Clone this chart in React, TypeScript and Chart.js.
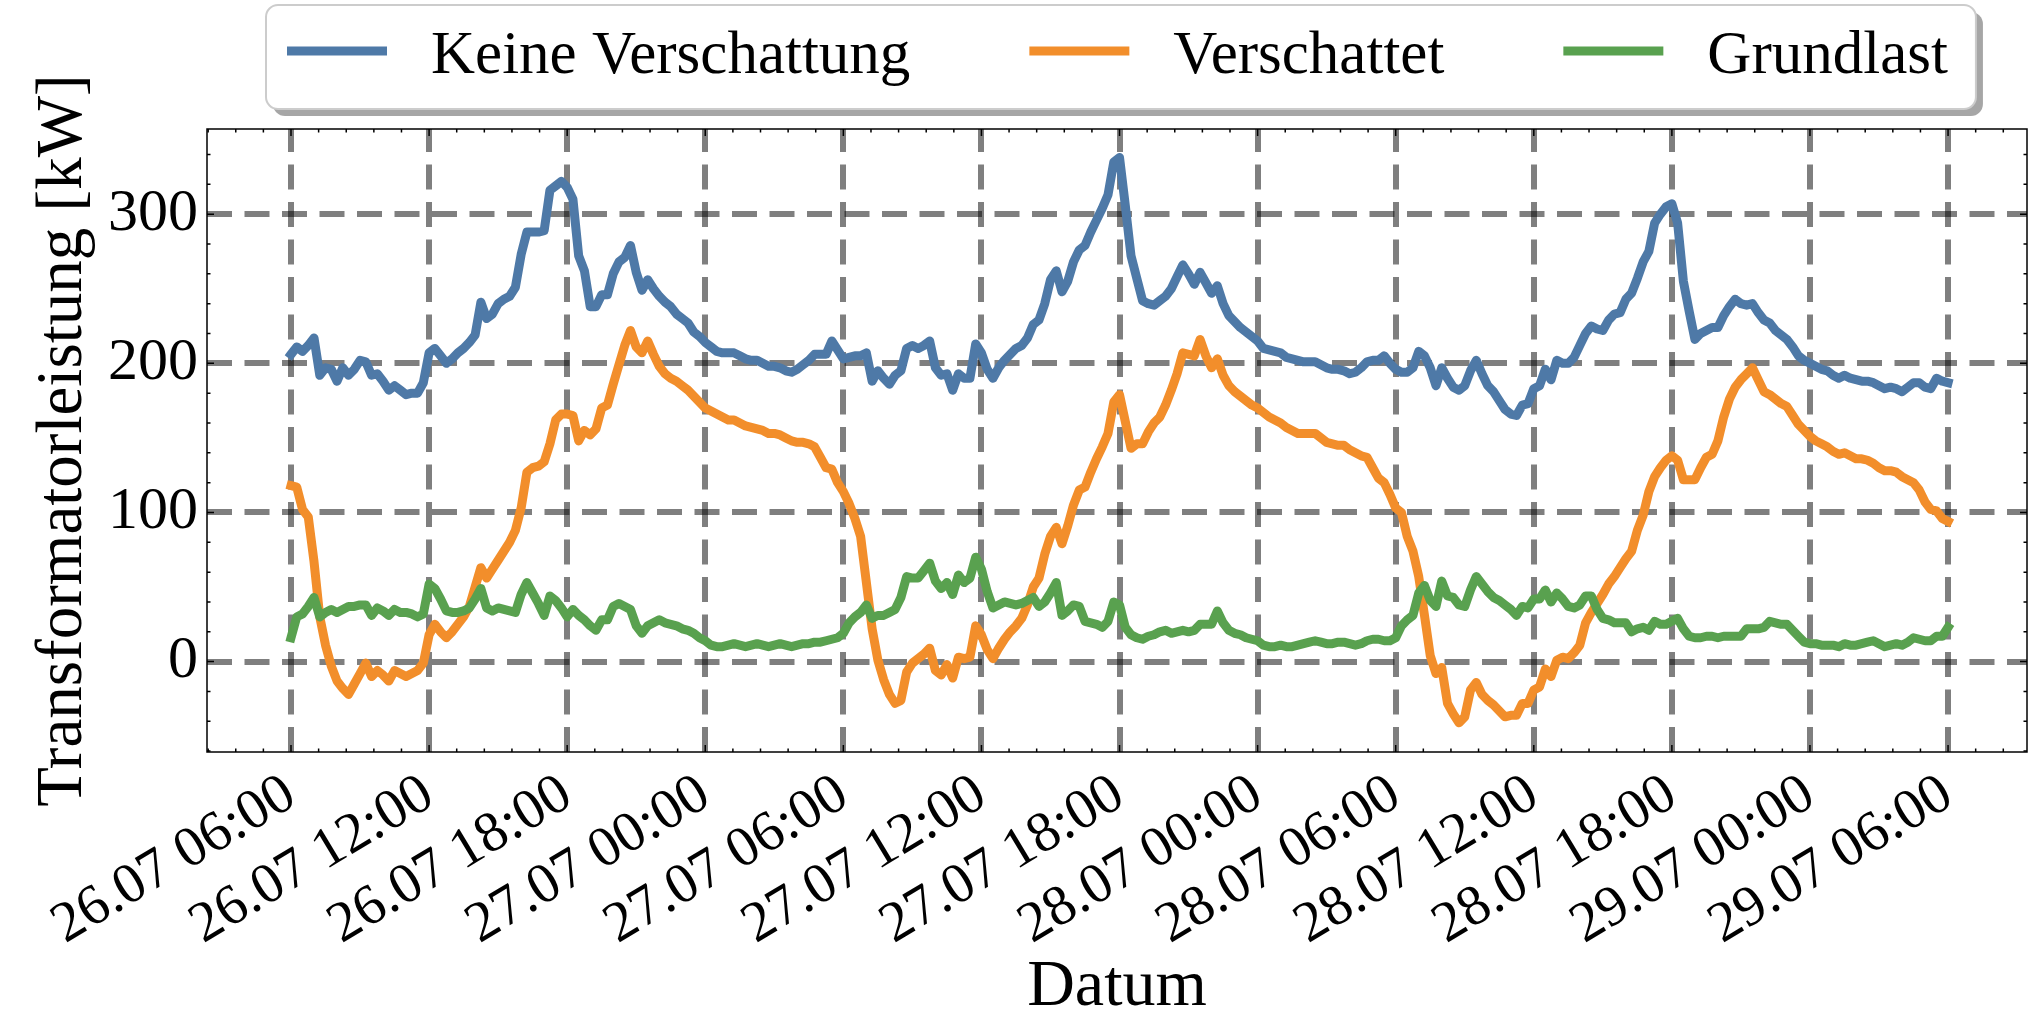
import React, { useEffect, useRef } from "react";
import { Chart, registerables } from "chart.js";

Chart.register(...registerables);

// Time axis: hours counted from 26.07 00:00, one sample every 15 minutes
const startHour = 6; // 26.07 06:00
const stepHours = 0.25;

const seriesLabels = ["Keine Verschattung", "Verschattet", "Grundlast"];
const seriesColors = ["#4e79a7", "#f28e2b", "#59a14f"];

const keineVerschattung = [
  206, 211, 208, 212, 217, 192, 197, 196, 188, 197, 192, 196, 202, 201, 192, 193, 188, 182, 185, 182, 179, 180, 180, 187,
  207, 210, 205, 200, 203, 207, 210, 214, 219, 241, 230, 233, 240, 243, 245, 251, 273, 288, 288, 288, 289, 316, 319, 322,
  318, 310, 272, 262, 238, 238, 246, 246, 260, 268, 271, 279, 261, 249, 256, 250, 245, 241, 238, 233, 230, 227, 221, 218,
  214, 211, 208, 207, 207, 207, 205, 203, 202, 202, 200, 198, 198, 197, 195, 194, 196, 199, 202, 206, 206, 206, 215, 209,
  203, 204, 205, 205, 207, 188, 195, 190, 186, 192, 195, 210, 212, 210, 212, 215, 197, 192, 193, 182, 193, 190, 190, 213,
  207, 196, 190, 197, 202, 206, 210, 212, 217, 226, 229, 240, 256, 262, 248, 255, 268, 276, 279, 288, 296, 304, 313, 335,
  338, 306, 272, 257, 242, 240, 239, 242, 245, 250, 258, 266, 260, 253, 261, 254, 247, 252, 240, 232, 228, 224, 221, 218,
  215, 210, 209, 208, 207, 204, 203, 202, 201, 201, 201, 199, 197, 196, 196, 195, 193, 194, 197, 201, 202, 202, 205, 200,
  196, 194, 194, 197, 208, 205, 197, 185, 197, 190, 184, 182, 185, 195, 202, 193, 185, 181, 175, 169, 166, 165, 172, 173,
  183, 185, 196, 189, 202, 200, 200, 204, 212, 220, 225, 223, 222, 229, 233, 234, 243, 247, 257, 268, 275, 294, 300, 305,
  307, 294, 255, 235, 216, 220, 222, 224, 224, 232, 238, 243, 240, 239, 240, 234, 229, 227, 222, 219, 216, 211, 205, 202,
  200, 198, 196, 195, 192, 190, 192, 190, 189, 188, 188, 187, 185, 183, 184, 183, 181, 184, 187, 187, 184, 183, 190, 188,
  187,
];

const verschattet = [
  118, 117, 102, 97, 67, 30, 11, -3, -13, -18, -22, -15, -8, -1, -10, -6, -9, -13, -6, -8, -10, -8, -6, -1,
  18, 25, 20, 16, 20, 25, 30, 37, 50, 63, 56, 62, 68, 74, 80, 88, 103, 127, 130, 131, 134, 146, 162, 166,
  166, 165, 148, 155, 152, 156, 170, 172, 186, 199, 212, 222, 211, 207, 215, 206, 198, 193, 190, 188, 185, 182, 178, 174,
  170, 168, 166, 164, 162, 162, 160, 158, 157, 156, 155, 153, 153, 152, 150, 148, 147, 147, 146, 144, 137, 130, 129, 120,
  114, 106, 96, 84, 53, 22, 1, -12, -22, -28, -26, -7, -1, 2, 5, 9, -6, -9, -2, -11, 3, 2, 3, 24,
  18, 8, 2, 9, 15, 20, 24, 29, 38, 50, 56, 72, 84, 90, 79, 91, 105, 115, 117, 127, 136, 144, 153, 174,
  179, 161, 143, 146, 146, 154, 160, 164, 172, 182, 193, 207, 206, 205, 216, 205, 197, 203, 192, 185, 181, 178, 175, 172,
  170, 167, 164, 162, 160, 157, 155, 153, 153, 153, 153, 150, 147, 146, 145, 145, 142, 140, 138, 137, 130, 123, 120, 112,
  103, 100, 84, 74, 57, 31, 4, -8, -4, -28, -35, -41, -37, -19, -14, -22, -26, -29, -33, -37, -36, -36, -28, -28,
  -19, -17, -5, -10, 1, 3, 2, 6, 11, 26, 33, 39, 45, 52, 57, 63, 69, 74, 88, 98, 114, 124, 130, 135,
  138, 135, 122, 122, 122, 130, 137, 139, 148, 164, 176, 184, 189, 193, 197, 189, 181, 179, 176, 173, 171, 165, 159, 155,
  151, 148, 146, 144, 141, 139, 140, 138, 136, 136, 135, 133, 130, 128, 128, 127, 124, 122, 120, 115, 107, 102, 101, 96,
  94,
];

const grundlast = [
  16, 30, 32, 37, 43, 30, 33, 35, 33, 35, 37, 37, 38, 38, 31, 36, 34, 31, 35, 33, 33, 32, 30, 32,
  52, 49, 42, 34, 33, 33, 34, 36, 42, 49, 36, 34, 36, 35, 34, 33, 45, 53, 46, 39, 31, 44, 41, 36,
  30, 35, 31, 28, 24, 21, 28, 28, 37, 39, 37, 35, 24, 19, 24, 26, 28, 26, 25, 24, 22, 21, 19, 16,
  14, 11, 10, 10, 11, 12, 11, 10, 11, 12, 11, 10, 11, 12, 11, 10, 11, 12, 12, 13, 13, 14, 15, 16,
  19, 26, 30, 33, 38, 29, 31, 31, 33, 35, 43, 57, 56, 56, 61, 66, 54, 49, 53, 45, 58, 53, 56, 70,
  62, 47, 36, 38, 40, 39, 38, 39, 41, 43, 37, 40, 46, 53, 31, 34, 38, 37, 27, 26, 25, 23, 27, 40,
  38, 23, 18, 16, 15, 17, 18, 20, 21, 19, 20, 21, 20, 21, 25, 25, 25, 34, 26, 21, 19, 18, 16, 15,
  14, 11, 10, 10, 11, 10, 10, 11, 12, 13, 14, 13, 12, 12, 13, 13, 12, 11, 12, 14, 15, 15, 14, 14,
  16, 24, 28, 31, 46, 51, 41, 37, 54, 44, 43, 38, 37, 48, 57, 52, 47, 43, 41, 38, 35, 31, 37, 36,
  42, 42, 48, 40, 46, 42, 37, 36, 38, 44, 44, 35, 29, 28, 26, 26, 26, 20, 22, 23, 21, 27, 25, 25,
  27, 29, 22, 17, 16, 16, 17, 17, 16, 17, 17, 17, 17, 22, 22, 22, 23, 27, 26, 25, 25, 21, 17, 13,
  12, 12, 11, 11, 11, 10, 12, 11, 11, 12, 13, 14, 12, 10, 11, 12, 11, 13, 16, 15, 14, 14, 17, 17,
  23,
];

const xTickHours = [6, 12, 18, 24, 30, 36, 42, 48, 54, 60, 66, 72, 78];
const xTickLabels = [
  "26.07 06:00", "26.07 12:00", "26.07 18:00", "27.07 00:00", "27.07 06:00", "27.07 12:00", "27.07 18:00",
  "28.07 00:00", "28.07 06:00", "28.07 12:00", "28.07 18:00", "29.07 00:00", "29.07 06:00",
];
const yTickValues = [0, 100, 200, 300];
const xAxisTitle = "Datum";
const yAxisTitle = "Transformatorleistung [kW]";

const X_MIN = 2.35;
const X_MAX = 81.43;
const Y_MIN = -60.6;
const Y_MAX = 357.1;

const FONT = "'Liberation Serif', 'Times New Roman', Times, serif";

function roundRectPath(ctx: CanvasRenderingContext2D, x: number, y: number, w: number, h: number, r: number) {
  ctx.beginPath();
  ctx.moveTo(x + r, y);
  ctx.lineTo(x + w - r, y);
  ctx.arcTo(x + w, y, x + w, y + r, r);
  ctx.lineTo(x + w, y + h - r);
  ctx.arcTo(x + w, y + h, x + w - r, y + h, r);
  ctx.lineTo(x + r, y + h);
  ctx.arcTo(x, y + h, x, y + h - r, r);
  ctx.lineTo(x, y + r);
  ctx.arcTo(x, y, x + r, y, r);
  ctx.closePath();
}

const framePlugin = {
  id: "frameTicks",
  afterDraw(chart: any) {
    const { ctx, chartArea: a, scales } = chart;
    const xs = scales.x;
    const ys = scales.y;
    ctx.save();
    ctx.strokeStyle = "#000";
    ctx.lineWidth = 1.5;
    ctx.strokeRect(a.left, a.top, a.right - a.left, a.bottom - a.top);
    const majorLen = 7;
    const minorLen = 3.5;
    ctx.beginPath();
    const xMaj = xs.ticks.map((t: any) => t.value);
    const xStep = (xMaj[1] - xMaj[0]) / 5;
    let v = xMaj[0];
    while (v - xStep >= xs.min) v -= xStep;
    for (; v <= xs.max + 1e-9; v += xStep) {
      const isMajor = xMaj.some((m: number) => Math.abs(m - v) < 1e-6);
      const len = isMajor ? majorLen : minorLen;
      const px = xs.getPixelForValue(v);
      ctx.moveTo(px, a.bottom);
      ctx.lineTo(px, a.bottom - len);
      ctx.moveTo(px, a.top);
      ctx.lineTo(px, a.top + len);
    }
    const yMaj = ys.ticks.map((t: any) => t.value);
    const yStep = (yMaj[1] - yMaj[0]) / 5;
    let w = yMaj[0];
    while (w - yStep >= ys.min) w -= yStep;
    for (; w <= ys.max + 1e-9; w += yStep) {
      const isMajor = yMaj.some((m: number) => Math.abs(m - w) < 1e-6);
      const len = isMajor ? majorLen : minorLen;
      const py = ys.getPixelForValue(w);
      ctx.moveTo(a.left, py);
      ctx.lineTo(a.left + len, py);
      ctx.moveTo(a.right, py);
      ctx.lineTo(a.right - len, py);
    }
    ctx.stroke();
    ctx.restore();
  },
};

const legendPlugin = {
  id: "mplLegend",
  afterDraw(chart: any) {
    const ctx: CanvasRenderingContext2D = chart.ctx;
    ctx.save();
    ctx.font = `61px ${FONT}`;
    const items = chart.data.datasets.map((ds: any) => ({
      label: ds.label as string,
      color: ds.borderColor as string,
      w: ctx.measureText(ds.label).width,
    }));
    const padL = 21;
    const padR = 28;
    const handleLen = 100;
    const handleGap = 44;
    const colGap = 119;
    let total = padL + padR;
    items.forEach((it: any, i: number) => {
      total += handleLen + handleGap + it.w + (i > 0 ? colGap : 0);
    });
    const boxX = 266;
    const boxY = 5;
    const boxH = 104;
    const r = 12;
    // shadow
    roundRectPath(ctx, boxX + 7, boxY + 7, total, boxH, r);
    ctx.fillStyle = "rgba(77,77,77,0.5)";
    ctx.fill();
    // frame
    roundRectPath(ctx, boxX, boxY, total, boxH, r);
    ctx.fillStyle = "#ffffff";
    ctx.fill();
    ctx.strokeStyle = "#cccccc";
    ctx.lineWidth = 2;
    ctx.stroke();
    let x = boxX + padL;
    const lineY = 51;
    const textY = 73;
    items.forEach((it: any, i: number) => {
      if (i > 0) x += colGap;
      ctx.strokeStyle = it.color;
      ctx.lineWidth = 9;
      ctx.lineCap = "butt";
      ctx.beginPath();
      ctx.moveTo(x, lineY);
      ctx.lineTo(x + handleLen, lineY);
      ctx.stroke();
      x += handleLen + handleGap;
      ctx.fillStyle = "#000";
      ctx.textBaseline = "alphabetic";
      ctx.textAlign = "left";
      ctx.fillText(it.label, x, textY);
      x += it.w;
    });
    ctx.restore();
  },
};

export default function App() {
  const canvasRef = useRef<HTMLCanvasElement | null>(null);

  useEffect(() => {
    document.body.style.margin = "0";
    const canvas = canvasRef.current;
    if (!canvas) return;
    const series = [keineVerschattung, verschattet, grundlast];
    const chart = new Chart(canvas, {
      type: "line",
      data: {
        datasets: series.map((vals, k) => ({
          label: seriesLabels[k],
          data: vals.map((val, i) => ({ x: startHour + i * stepHours, y: val })),
          borderColor: seriesColors[k],
          backgroundColor: seriesColors[k],
          borderWidth: 9,
          pointRadius: 0,
          pointHoverRadius: 0,
          tension: 0,
          fill: false,
          borderJoinStyle: "round",
          borderCapStyle: "square",
          order: 2 - k,
        })),
      },
      options: {
        responsive: false,
        animation: false,
        devicePixelRatio: 1,
        events: [],
        layout: { padding: { top: 129, right: 1, left: 0, bottom: 0 } },
        plugins: {
          legend: { display: false },
          tooltip: { enabled: false },
          title: { display: false },
        },
        scales: {
          x: {
            type: "linear",
            min: X_MIN,
            max: X_MAX,
            z: 1,
            afterBuildTicks: (s: any) => {
              s.ticks = xTickHours.map((h) => ({ value: h }));
            },
            afterFit: (s: any) => {
              s.height = 265;
            },
            ticks: {
              autoSkip: false,
              maxRotation: 31,
              minRotation: 31,
              padding: 9,
              color: "#000",
              font: { family: FONT, size: 57 },
              callback: (_v: any, index: number) => xTickLabels[index] ?? "",
            },
            grid: { color: "rgba(0,0,0,0.5)", lineWidth: 6, drawTicks: false },
            border: { display: false, dash: [25, 12.5], dashOffset: 2 },
            title: {
              display: true,
              text: xAxisTitle,
              color: "#000",
              font: { family: FONT, size: 66, lineHeight: 0.875 },
              padding: { top: 0, bottom: 0 },
            },
          },
          y: {
            type: "linear",
            min: Y_MIN,
            max: Y_MAX,
            z: 1,
            afterBuildTicks: (s: any) => {
              s.ticks = yTickValues.map((v) => ({ value: v }));
            },
            afterFit: (s: any) => {
              s.width = 207;
            },
            ticks: {
              padding: 9,
              color: "#000",
              font: { family: FONT, size: 60 },
            },
            grid: { color: "rgba(0,0,0,0.5)", lineWidth: 6, drawTicks: false },
            border: { display: false, dash: [25, 12.5], dashOffset: 0 },
            title: {
              display: true,
              text: yAxisTitle,
              color: "#000",
              font: { family: FONT, size: 65, lineHeight: 0.875 },
              padding: { top: 35, bottom: 0 },
            },
          },
        },
      },
      plugins: [framePlugin, legendPlugin],
    } as any);
    return () => chart.destroy();
  }, []);

  return (
    <div style={{ position: "absolute", left: 0, top: 0, width: 2028, height: 1017, background: "#fff" }}>
      <canvas ref={canvasRef} width={2028} height={1017} style={{ display: "block", width: 2028, height: 1017 }} />
    </div>
  );
}
